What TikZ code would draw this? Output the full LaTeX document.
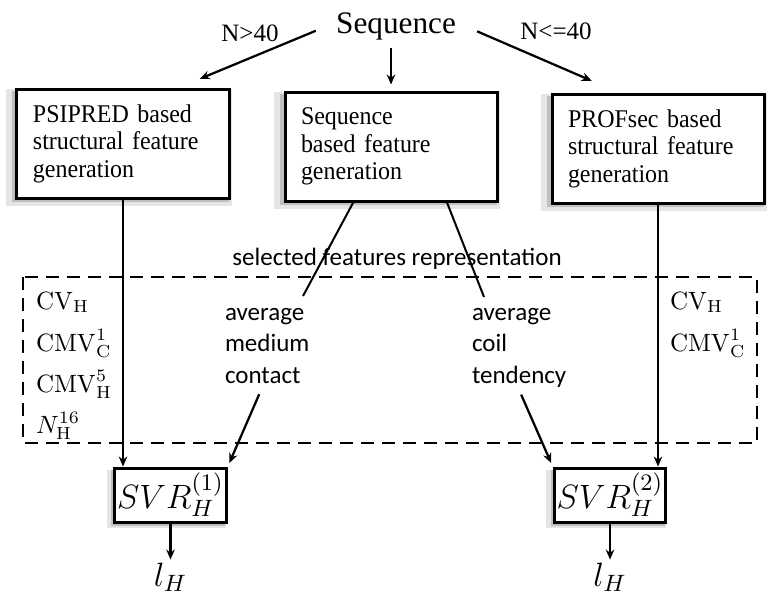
\RequirePackage{fix-cm}
\documentclass[tikz,border=0pt]{standalone}
\usepackage[no-math]{fontspec}
\setmainfont{Liberation Serif}
\newfontfamily\boxserif[FakeStretch=0.94]{Liberation Serif}
\newfontfamily\labelsans{Carlito}
\usetikzlibrary{arrows.meta, shadows}

\begin{document}
\begin{tikzpicture}[x=0.4pt, y=-0.4pt,
    arr/.style={-{Stealth[length=4pt, width=3.4pt]}, line width=0.9pt},
    link/.style={line width=0.8pt},
    boxshade/.style={general shadow={fill=gray!20, shadow scale=1.07, shadow xshift=-1.5pt, shadow yshift=-1.6pt},
                     general shadow={fill=gray!50, shadow scale=1.025, shadow xshift=-0.9pt, shadow yshift=-1.2pt}},
    featbox/.style={draw, line width=1.2pt, fill=white, align=left, text width=72pt, inner xsep=6.4pt,
                    minimum height=43.6pt, font=\boxserif\fontsize{10.2}{11}\selectfont, boxshade},
    svrbox/.style={draw, line width=1.2pt, fill=white, minimum width=38pt, minimum height=21.6pt,
                   inner sep=1pt, font=\fontsize{13.5}{16}\selectfont, boxshade},
    feat/.style={anchor=base west, inner sep=1pt, font=\fontsize{10}{12}\selectfont},
    sel/.style={anchor=base west, inner sep=1pt, font=\labelsans\fontsize{10}{12}\selectfont},
    cond/.style={font=\fontsize{10}{12}\selectfont},
    dashbox/.style={line width=1pt, dash pattern=on 5.2pt off 3.2pt}]
    \useasboundingbox (0,0) rectangle (770,594);

    % Sequence and the three generators
    \node[font=\fontsize{12.5}{14}\selectfont, anchor=base] (seq) at (396,33) {Sequence};
    \node[featbox] (psi) at (123,143.5) {PSIPRED based\\structural feature\\generation};
    \node[featbox] (mid) at (391,146.5) {Sequence\\based feature\\generation};
    \node[featbox] (prof) at (658,148.5) {PROFsec based\\structural feature\\generation};

    \draw[arr, shorten <=5pt, shorten >=9pt] (seq.west) -- (psi.45);
    \draw[arr, shorten <=5.4pt, shorten >=11.8pt] (seq.east) -- (prof.125);
    \draw[arr, shorten >=2.4pt] (mid.north |- seq.south) -- (mid.north);
    \node[cond] (gt) at (250,33.5) {N>40};
    \node[cond] (le) at (556,31.5) {N<=40};

    % Selected features
    \node[sel, anchor=base] (selrep) at (397,265) {selected features representation};
    \draw[dashbox] (23,277) rectangle (757,443);

    \node[feat] (cv1) at (33,309) {$\mathrm{CV}_{\mathrm{H}}$};
    \node[feat] (cmvc1) at (33,351) {$\mathrm{CMV}^{1}_{\mathrm{C}}$};
    \node[feat] (cmvh) at (33,392) {$\mathrm{CMV}^{5}_{\mathrm{H}}$};
    \node[feat] (nh) at (33,433) {$N^{16}_{\mathrm{H}}$};
    \node[feat] (cv2) at (667,309) {$\mathrm{CV}_{\mathrm{H}}$};
    \node[feat] (cmvc2) at (667,351) {$\mathrm{CMV}^{1}_{\mathrm{C}}$};

    \node[sel] (avgl) at (222,320) {average};
    \node[sel] (medl) at (222,351.5) {medium};
    \node[sel] (conl) at (222,383) {contact};
    \node[sel] (avgr) at (469,320) {average};
    \node[sel] (coil) at (469,351.5) {coil};
    \node[sel] (tend) at (469,383) {tendency};

    \coordinate (avgltop) at (303,296);
    \coordinate (avgrtop) at (484,297);
    \draw[link] (mid.-124) -- (avgltop);
    \draw[link] (mid.-45) -- (avgrtop);

    % Regressors
    \node[svrbox] (svr1) at (170.5,495) {$SVR_H^{(1)}$};
    \node[svrbox] (svr2) at (610,495) {$SVR_H^{(2)}$};
    \node[font=\fontsize{13.5}{16}\selectfont, anchor=base, inner sep=1pt] (lh1) at (170.5,586) {$l_H$};
    \node[font=\fontsize{13.5}{16}\selectfont, anchor=base, inner sep=1pt] (lh2) at (610,586) {$l_H$};

    \draw[arr] (psi.south) -- (psi.south |- svr1.north);
    \draw[arr] (prof.south) -- (prof.south |- svr2.north);
    \draw[arr, shorten <=3.5pt, shorten >=1.5pt] (conl.south) -- (svr1.north east);
    \draw[arr, shorten <=2pt, shorten >=1.5pt] (tend.south) -- (svr2.north west);
    \draw[arr] (svr1) -- (lh1);
    \draw[arr] (svr2) -- (lh2);
\end{tikzpicture}
\end{document}
